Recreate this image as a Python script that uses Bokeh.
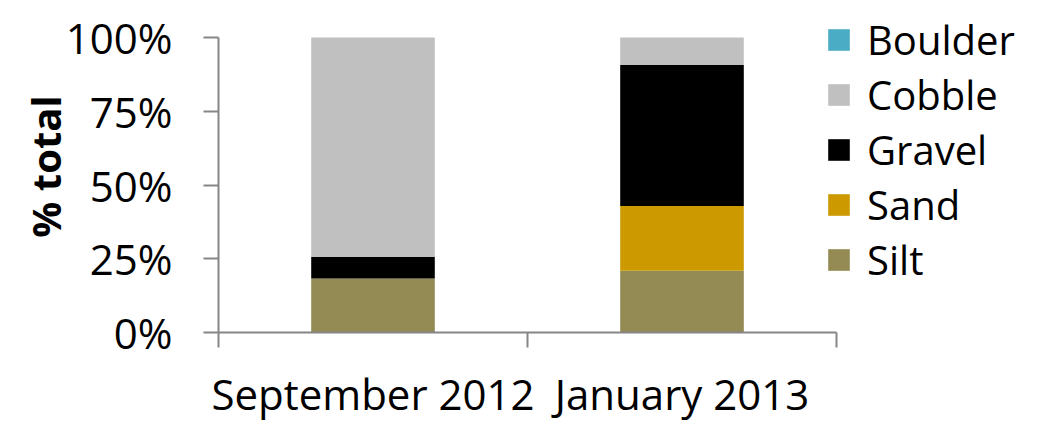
from bokeh.plotting import figure
from bokeh.models import (ColumnDataSource, Range1d, FixedTicker, NumeralTickFormatter,
                          Legend, LegendItem)
from bokeh.embed import file_html
from bokeh.resources import INLINE

categories = ["September 2012", "January 2013"]
layers = ["Silt", "Sand", "Gravel", "Cobble", "Boulder"]
silt = [0.183, 0.209]
sand = [0.0, 0.220]
gravel = [0.074, 0.478]
cobble = [0.743, 0.093]
boulder = [0.0, 0.0]
colors = ["#948A54", "#CC9900", "#000000", "#C0C0C0", "#4BACC6"]
y_ticks = [0, 0.25, 0.5, 0.75, 1.0]

FONT = "Open Sans"
W, H = 1037, 432
LEFT, TOP, BOTTOM = 218, 37, 100
AXIS_W = 618   # pixel width of the category axis
AXIS_H = H - TOP - BOTTOM  # pixel height of 0..100%
n = len(categories)

xpos = [i + 0.5 for i in range(n)]
src = ColumnDataSource(dict(x=xpos, Silt=silt, Sand=sand, Gravel=gravel,
                            Cobble=cobble, Boulder=boulder))

# frame extends to the right and top edges so the legend is not clipped
x_end = n * (W - LEFT) / AXIS_W
y_end = (H - BOTTOM) / AXIS_H
p = figure(width=W, height=H, output_backend="svg", toolbar_location=None,
           x_range=Range1d(0, x_end), y_range=Range1d(0, y_end),
           min_border_left=LEFT, min_border_right=0, min_border_top=0,
           min_border_bottom=BOTTOM)
p.outline_line_color = None
p.grid.grid_line_color = None
p.background_fill_color = "white"
p.border_fill_color = "white"

renderers = p.vbar_stack(layers, x="x", width=0.4, color=colors, source=src,
                         line_color=None)

axis_color = "#868686"
# y axis
ya = p.yaxis[0]
ya.bounds = (0, 1)
ya.ticker = FixedTicker(ticks=y_ticks, minor_ticks=[])
ya.formatter = NumeralTickFormatter(format="0%")
ya.axis_line_color = axis_color
ya.axis_line_width = 2
ya.major_tick_line_color = axis_color
ya.major_tick_line_width = 2
ya.major_tick_out = 15
ya.major_tick_in = 0
ya.major_label_text_font = FONT
ya.major_label_text_font_size = "42px"
ya.major_label_text_color = "black"
ya.major_label_standoff = 31
ya.axis_label = "% total"
ya.axis_label_text_font = FONT
ya.axis_label_text_font_size = "40px"
ya.axis_label_text_font_style = "bold"
ya.axis_label_text_color = "black"
ya.axis_label_standoff = -10

# x axis
xa = p.xaxis[0]
xa.bounds = (0, n)
xa.ticker = FixedTicker(ticks=xpos, minor_ticks=list(range(n + 1)))
xa.major_label_overrides = {x: c for x, c in zip(xpos, categories)}
xa.axis_line_color = axis_color
xa.axis_line_width = 2
xa.major_tick_line_color = None
xa.major_tick_out = 0
xa.major_tick_in = 0
xa.minor_tick_line_color = axis_color
xa.minor_tick_line_width = 2
xa.minor_tick_out = 15
xa.minor_tick_in = 0
xa.major_label_text_font = FONT
xa.major_label_text_font_size = "42px"
xa.major_label_text_color = "black"
xa.major_label_standoff = 17

items = [LegendItem(label=name, renderers=[r]) for name, r in zip(layers, renderers)][::-1]
legend = Legend(items=items, location=(607, 45), orientation="vertical",
                glyph_width=27, glyph_height=27, label_standoff=15,
                label_text_font=FONT, label_text_font_size="40px",
                label_text_color="black", label_height=54, spacing=0,
                padding=0, margin=0, border_line_color=None,
                background_fill_alpha=0)
p.add_layout(legend, "center")

open("out.html", "w").write(file_html(p, INLINE))
